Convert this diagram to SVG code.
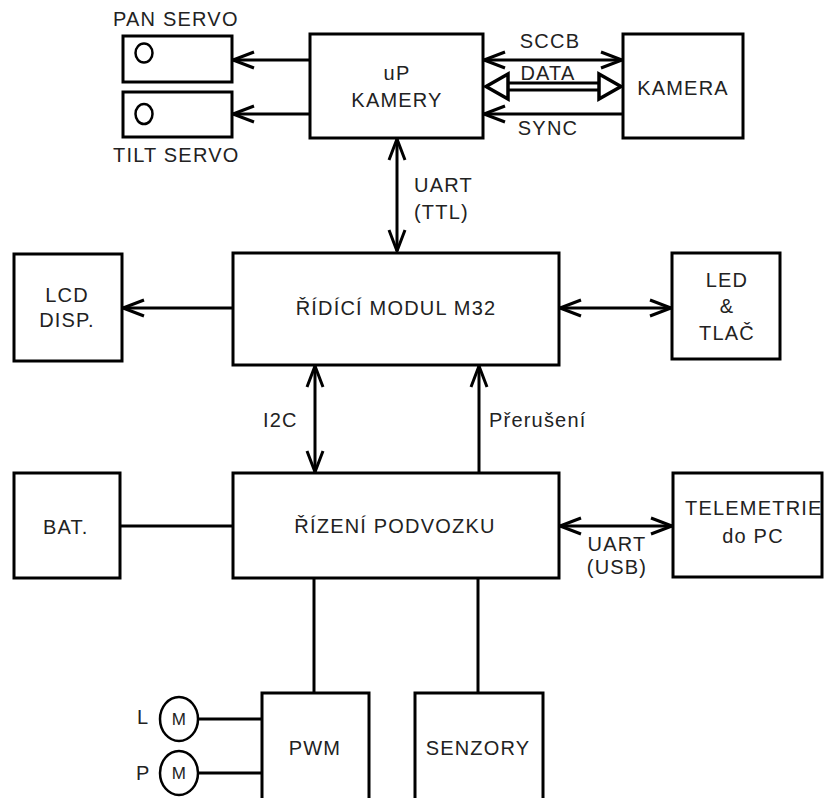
<svg xmlns="http://www.w3.org/2000/svg" width="824" height="798" viewBox="0 0 824 798">
<style>
.box{fill:#fff;stroke:#000;stroke-width:3}
.ln{fill:none;stroke:#000;stroke-width:3}
.thin{fill:none;stroke:#000;stroke-width:2.5}
text{font-family:"Liberation Sans",Arial,sans-serif;font-size:20px;fill:#222;letter-spacing:1.2px}
.m{text-anchor:middle}
.sm{font-size:17px;letter-spacing:0.3px}
.tri{fill:#fff;stroke:#000;stroke-width:3.5;stroke-linejoin:miter}
</style>
<defs>
<marker id="ah" markerUnits="userSpaceOnUse" markerWidth="26" markerHeight="22" viewBox="0 0 26 22" refX="23" refY="11" orient="auto-start-reverse">
<path d="M2,3 L23,11 L2,19" fill="none" stroke="#000" stroke-width="3"/>
</marker>
</defs>
<rect width="824" height="798" fill="#fff"/>

<g id="connectors">
<line class="ln" x1="310" y1="60" x2="233" y2="60" marker-end="url(#ah)"/>
<line class="ln" x1="310" y1="114" x2="233" y2="114" marker-end="url(#ah)"/>
<line class="ln" x1="484" y1="60" x2="622" y2="60" marker-start="url(#ah)" marker-end="url(#ah)"/>
<line class="ln" x1="622" y1="114" x2="484" y2="114" marker-end="url(#ah)"/>
<line class="ln" x1="506" y1="83" x2="600" y2="83"/>
<line class="ln" x1="506" y1="90" x2="600" y2="90"/>
<polygon class="tri" points="486,86.5 508,74 508,99"/>
<polygon class="tri" points="621,86.5 599,74 599,99"/>
<line class="ln" x1="397" y1="139" x2="397" y2="251" marker-start="url(#ah)" marker-end="url(#ah)"/>
<line class="ln" x1="233" y1="308" x2="123" y2="308" marker-end="url(#ah)"/>
<line class="ln" x1="560" y1="308" x2="671" y2="308" marker-start="url(#ah)" marker-end="url(#ah)"/>
<line class="ln" x1="315" y1="366" x2="315" y2="472" marker-start="url(#ah)" marker-end="url(#ah)"/>
<line class="ln" x1="479" y1="473" x2="479" y2="366" marker-end="url(#ah)"/>
<line class="ln" x1="120" y1="526" x2="233" y2="526"/>
<line class="ln" x1="560" y1="526" x2="672" y2="526" marker-start="url(#ah)" marker-end="url(#ah)"/>
<line class="ln" x1="314" y1="578" x2="314" y2="693"/>
<line class="ln" x1="478" y1="578" x2="478" y2="693"/>
<line class="ln" x1="198" y1="719" x2="262" y2="719"/>
<line class="ln" x1="198" y1="773" x2="262" y2="773"/>
</g>

<g id="pan-servo">
<rect class="box" x="123" y="36" width="109" height="46"/>
<ellipse class="thin" cx="144" cy="53" rx="8.5" ry="9.5"/>
<text x="113" y="26">PAN SERVO</text>
</g>
<g id="tilt-servo">
<rect class="box" x="123" y="92" width="109" height="45"/>
<ellipse class="thin" cx="144" cy="114" rx="8.5" ry="10"/>
<text x="113" y="162">TILT SERVO</text>
</g>
<g id="up-kamery">
<rect class="box" x="310" y="34" width="173" height="104"/>
<text class="m" x="397" y="80">uP</text>
<text class="m" x="397" y="107">KAMERY</text>
</g>
<g id="labels">
<text class="m" x="550" y="48">SCCB</text>
<text class="m" x="548" y="80">DATA</text>
<text class="m" x="548" y="135">SYNC</text>
<text x="414" y="192">UART</text>
<text x="414" y="219">(TTL)</text>
<text x="263" y="427">I2C</text>
<text x="489" y="427">Přerušení</text>
<text class="m" x="617" y="551">UART</text>
<text class="m" x="617" y="574">(USB)</text>
</g>
<g id="kamera">
<rect class="box" x="623" y="34" width="120" height="104"/>
<text class="m" x="683" y="95">KAMERA</text>
</g>
<g id="lcd">
<rect class="box" x="14" y="254" width="108" height="107"/>
<text class="m" x="67" y="302">LCD</text>
<text class="m" x="67" y="327">DISP.</text>
</g>
<g id="m32">
<rect class="box" x="233" y="253" width="326" height="112"/>
<text class="m" x="396" y="315">ŘÍDÍCÍ MODUL M32</text>
</g>
<g id="led">
<rect class="box" x="672" y="253" width="108" height="106"/>
<text class="m" x="727" y="287">LED</text>
<text class="m" x="727" y="313">&amp;</text>
<text class="m" x="727" y="340">TLAČ</text>
</g>
<g id="bat">
<rect class="box" x="14" y="473" width="106" height="105"/>
<text x="43" y="534">BAT.</text>
</g>
<g id="podvozek">
<rect class="box" x="233" y="473" width="326" height="105"/>
<text class="m" x="395" y="533">ŘÍZENÍ PODVOZKU</text>
</g>
<g id="telemetrie">
<rect class="box" x="673" y="473" width="149" height="104"/>
<text x="685" y="515">TELEMETRIE</text>
<text class="m" x="753" y="543">do PC</text>
</g>
<g id="pwm">
<rect class="box" x="262" y="693" width="107" height="115"/>
<text class="m" x="315" y="755">PWM</text>
</g>
<g id="senzory">
<rect class="box" x="415" y="693" width="128" height="115"/>
<text class="m" x="478" y="755">SENZORY</text>
</g>
<g id="motor-l">
<ellipse class="thin" cx="179" cy="719" rx="19" ry="22"/>
<text class="m sm" x="179" y="725">M</text>
<text x="137" y="724">L</text>
</g>
<g id="motor-p">
<ellipse class="thin" cx="179" cy="773" rx="19" ry="22"/>
<text class="m sm" x="179" y="779">M</text>
<text x="136" y="780">P</text>
</g>
</svg>
